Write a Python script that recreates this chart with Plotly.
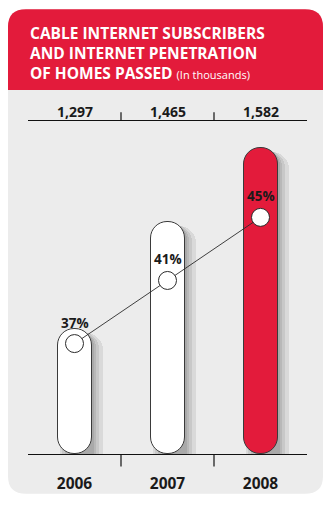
import plotly.graph_objects as go

# ---- data ----
years = ["2006", "2007", "2008"]
subscribers = [1297, 1465, 1582]          # cable internet subscribers, thousands
penetration = [37, 41, 45]                # % of homes passed
bar_colors = ["#ffffff", "#ffffff", "#e31b3b"]

title_lines = ["CABLE INTERNET SUBSCRIBERS", "AND INTERNET PENETRATION", "OF HOMES PASSED"]
title_note = "(In thousands)"

# ---- geometry (pixels) ----
W_FIG, H_FIG = 325, 506
M_L, M_R, M_T, M_B = 28, 18, 121, 42
PW = W_FIG - M_L - M_R
PH = H_FIG - M_T - M_B
PLOT_BOTTOM = H_FIG - M_B

SUB_RANGE = [1099, 1625]
PEN_RANGE = [30, 30 + PH / 16.25]
k = PH / (SUB_RANGE[1] - SUB_RANGE[0])    # px per subscriber unit
CAT_PX = PW / len(years)
BAR_PX = 34
bw = BAR_PX / CAT_PX
R_PX = BAR_PX / 2

RED = "#e31b3b"
PANEL = "#ececec"
INK = "#1a1a1a"
OUTLINE = "#3a3a3a"
FONT = "Open Sans"
idx = list(range(len(years)))


def px(x):
    return (x - M_L) / PW


def py(y):
    return (PLOT_BOTTOM - y) / PH


def card_path(x0, y0, x1, y1, r_top, r_bot):
    pts = [
        f"M{px(x0)},{py(y1 - r_bot)}",
        f"L{px(x0)},{py(y0 + r_top)}",
        f"Q{px(x0)},{py(y0)} {px(x0 + r_top)},{py(y0)}",
        f"L{px(x1 - r_top)},{py(y0)}",
        f"Q{px(x1)},{py(y0)} {px(x1)},{py(y0 + r_top)}",
        f"L{px(x1)},{py(y1 - r_bot)}",
        f"Q{px(x1)},{py(y1)} {px(x1 - r_bot)},{py(y1)}",
        f"L{px(x0 + r_bot)},{py(y1)}",
        f"Q{px(x0)},{py(y1)} {px(x0)},{py(y1 - r_bot)}",
    ]
    return " ".join(pts) + " Z"


fig = go.Figure()

# soft drop shadow behind each bar
low = SUB_RANGE[0] - 60
for dx, dy in [(2, 1), (4, 2), (7, 3), (11, 4)]:
    fig.add_trace(go.Bar(
        x=years, base=[low] * len(years),
        y=[v - dy / k - low for v in subscribers],
        width=bw, offset=-bw / 2 + dx / CAT_PX,
        marker=dict(color="rgba(0,0,0,0.08)", line=dict(width=0), cornerradius=R_PX),
        hoverinfo="skip", showlegend=False,
    ))

# pill-shaped bars (explicit base -> both ends rounded)
fig.add_trace(go.Bar(
    x=years, base=[SUB_RANGE[0]] * len(years),
    y=[v - SUB_RANGE[0] for v in subscribers],
    width=bw,
    marker=dict(color=bar_colors, line=dict(color=OUTLINE, width=1), cornerradius=R_PX),
    hoverinfo="skip", showlegend=False,
))

# penetration line
fig.add_trace(go.Scatter(
    x=years, y=penetration, yaxis="y2", mode="lines+markers",
    line=dict(color="#2b2b2b", width=0.9),
    marker=dict(size=18, color="white", line=dict(color="#2b2b2b", width=1)),
    hoverinfo="skip", showlegend=False,
))

shapes = [
    dict(type="path", xref="paper", yref="paper", layer="below", line=dict(width=0),
         fillcolor=PANEL, path=card_path(8, 6, 323, 505, 18, 18)),
    dict(type="path", xref="paper", yref="paper", layer="below", line=dict(width=0),
         fillcolor=RED, path=card_path(8, 6, 323, 89, 18, 0)),
]
# separators between categories, above and below
for b in [0.5, 1.5]:
    shapes.append(dict(type="line", xref="x", yref="paper", x0=b, x1=b,
                       y0=py(121), y1=py(112), line=dict(color="#111", width=1.2)))
    shapes.append(dict(type="line", xref="x", yref="paper", x0=b, x1=b,
                       y0=py(464), y1=py(477), line=dict(color="#111", width=1.2)))

title_text = "<br>".join(title_lines[:-1] + [
    title_lines[-1] + f" <span style='font-size:11px;font-weight:normal'>{title_note}</span>"
])
annotations = [dict(
    xref="paper", yref="paper", x=px(28), y=py(50.5),
    xanchor="left", yanchor="middle", align="left", showarrow=False, text=title_text,
    font=dict(family=FONT, size=15.5, color="white", weight="bold"),
)]

for i, v in zip(idx, subscribers):
    annotations.append(dict(
        xref="x", yref="paper", x=i, y=py(111.5), xanchor="center", yanchor="middle",
        showarrow=False, text=f"{v:,}",
        font=dict(family=FONT, size=14, color=INK, weight="bold"),
    ))

for i, p in zip(idx, penetration):
    annotations.append(dict(
        xref="x", yref="y2", x=i, y=p, yshift=21, xanchor="center", yanchor="middle",
        showarrow=False, text=f"{p}%",
        font=dict(family=FONT, size=13.5, color=INK, weight="bold"),
    ))

fig.update_layout(
    width=W_FIG, height=H_FIG,
    margin=dict(l=M_L, r=M_R, t=M_T, b=M_B, pad=0),
    paper_bgcolor="white", plot_bgcolor="rgba(0,0,0,0)",
    barmode="overlay", bargap=0,
    showlegend=False,
    xaxis=dict(type="category", categoryorder="array", categoryarray=years,
               range=[-0.5, len(years) - 0.5], showline=True, mirror=True,
               linecolor="#111", linewidth=1.2, showgrid=False, zeroline=False,
               ticks="outside", ticklen=15, tickcolor="rgba(0,0,0,0)",
               tickfont=dict(family=FONT, size=15.5, color=INK, weight="bold"),
               fixedrange=True),
    yaxis=dict(range=SUB_RANGE, visible=False, fixedrange=True),
    yaxis2=dict(range=PEN_RANGE, overlaying="y", visible=False, fixedrange=True),
    shapes=shapes, annotations=annotations,
)

fig.write_html("out.html", config={"displayModeBar": False})
